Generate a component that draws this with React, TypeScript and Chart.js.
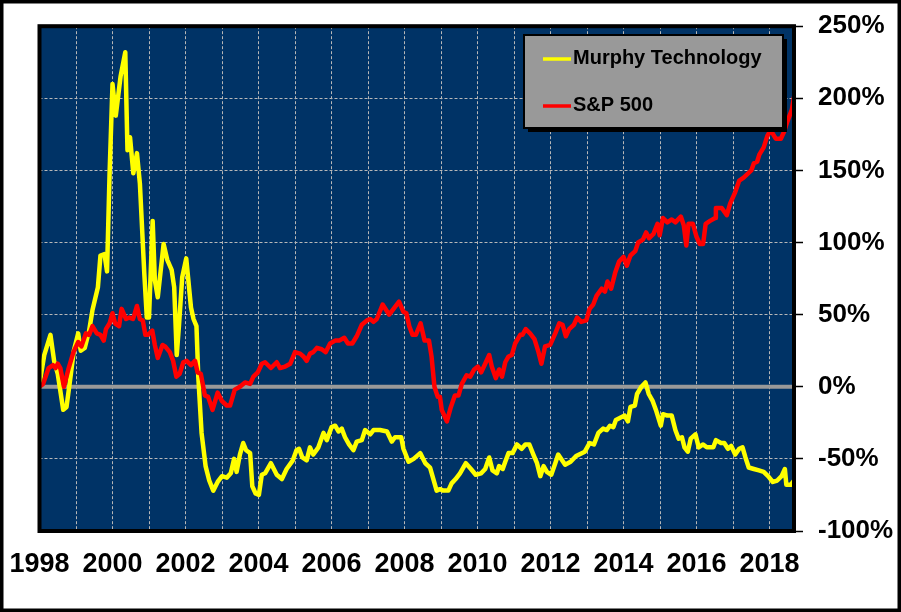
import { useEffect, useRef } from 'react';
import { Chart, registerables } from 'chart.js';

Chart.register(...registerables);

const FONT = "'Liberation Sans', Arial, sans-serif";

const seriesNames = ['Murphy Technology', 'S&P 500'];
const seriesColors = ['#ffff00', '#ff0000'];

// cumulative return (%), x = decimal year
const murphyYears = [
  1998.0, 1998.13, 1998.3, 1998.4, 1998.5, 1998.65, 1998.74, 1998.85, 1998.94, 1999.06,
  1999.13, 1999.24, 1999.36, 1999.45, 1999.6, 1999.67, 1999.78, 1999.85, 1999.92, 2000.0,
  2000.09, 2000.22, 2000.35, 2000.41, 2000.48, 2000.57, 2000.67, 2000.75, 2000.87, 2000.94,
  2001.0, 2001.1, 2001.16, 2001.24, 2001.4, 2001.5, 2001.62, 2001.69, 2001.76, 2001.82,
  2001.91, 2002.02, 2002.07, 2002.15, 2002.22, 2002.3, 2002.35, 2002.44, 2002.55, 2002.65,
  2002.76, 2002.88, 2003.0, 2003.13, 2003.24, 2003.33, 2003.4, 2003.49, 2003.58, 2003.66,
  2003.77, 2003.83, 2003.92, 2004.01, 2004.09, 2004.18, 2004.34, 2004.5, 2004.64, 2004.77,
  2004.94, 2005.04, 2005.11, 2005.2, 2005.32, 2005.41, 2005.5, 2005.64, 2005.78, 2005.87,
  2006.0, 2006.1, 2006.19, 2006.28, 2006.37, 2006.48, 2006.6, 2006.69, 2006.83, 2006.92,
  2007.06, 2007.15, 2007.33, 2007.52, 2007.65, 2007.74, 2007.91, 2007.97, 2008.11, 2008.25,
  2008.43, 2008.57, 2008.7, 2008.79, 2008.88, 2008.97, 2009.06, 2009.2, 2009.29, 2009.4,
  2009.52, 2009.68, 2009.82, 2009.95, 2010.1, 2010.21, 2010.32, 2010.41, 2010.53, 2010.59,
  2010.69, 2010.76, 2010.85, 2010.96, 2011.08, 2011.21, 2011.31, 2011.42, 2011.53, 2011.63,
  2011.72, 2011.81, 2011.9, 2012.02, 2012.13, 2012.21, 2012.4, 2012.55, 2012.7, 2012.94,
  2013.07, 2013.19, 2013.31, 2013.44, 2013.54, 2013.63, 2013.72, 2013.79, 2013.95, 2014.03,
  2014.12, 2014.19, 2014.31, 2014.37, 2014.49, 2014.6, 2014.69, 2014.8, 2014.9, 2015.02,
  2015.08, 2015.2, 2015.32, 2015.42, 2015.51, 2015.6, 2015.67, 2015.76, 2015.84, 2015.97,
  2016.06, 2016.18, 2016.28, 2016.46, 2016.53, 2016.67, 2016.76, 2016.86, 2016.95, 2017.06,
  2017.17, 2017.26, 2017.34, 2017.43, 2017.57, 2017.71, 2017.84, 2017.96, 2018.09, 2018.21,
  2018.33, 2018.42, 2018.46, 2018.58, 2018.67,
];
const murphyValues = [
  2, 22, 36, 18, 9, -16, -14, 7, 25, 37,
  25, 27, 39, 53, 69, 91, 92, 80, 148, 210,
  188, 215, 232, 164, 173, 148, 162, 141, 79, 48,
  48, 115, 74, 62, 99, 88, 81, 69, 22, 42,
  76, 89, 76, 55, 47, 42, 7, -32, -55, -65,
  -72, -66, -62, -63, -60, -50, -59, -47, -39, -44,
  -46, -69, -74, -75, -61, -60, -53, -61, -64, -57,
  -51, -44, -43, -49, -51, -42, -47, -42, -32, -37,
  -28, -27, -31, -29, -35, -40, -44, -38, -37, -30,
  -33, -30, -30, -31, -38, -35, -35, -43, -52, -50,
  -46, -53, -56, -64, -72, -71, -72, -72, -67, -64,
  -60, -53, -57, -61, -60, -57, -49, -58, -60, -55,
  -57, -52, -46, -46, -40, -43, -40, -40, -47, -53,
  -62, -55, -59, -61, -53, -47, -54, -52, -48, -45,
  -39, -40, -32, -29, -30, -27, -28, -23, -21, -20,
  -24, -14, -13, -5, 0, 3, -5, -10, -17, -27,
  -19, -20, -20, -30, -36, -35, -42, -45, -36, -33,
  -42, -40, -42, -42, -37, -39, -39, -43, -41, -47,
  -43, -42, -49, -56, -57, -58, -59, -62, -66, -65,
  -62, -57, -68, -68, -65,
];

const spYears = [
  1998.0, 1998.1, 1998.25, 1998.37, 1998.44, 1998.5, 1998.57, 1998.67, 1998.8, 1998.93,
  1999.06, 1999.15, 1999.27, 1999.36, 1999.45, 1999.57, 1999.67, 1999.76, 1999.82, 1999.92,
  2000.0, 2000.07, 2000.18, 2000.25, 2000.37, 2000.46, 2000.56, 2000.6, 2000.67, 2000.75,
  2000.83, 2000.9, 2000.97, 2001.09, 2001.16, 2001.24, 2001.37, 2001.44, 2001.57, 2001.66,
  2001.75, 2001.84, 2001.94, 2002.03, 2002.15, 2002.26, 2002.33, 2002.42, 2002.53, 2002.62,
  2002.74, 2002.88, 2003.0, 2003.13, 2003.22, 2003.35, 2003.49, 2003.63, 2003.77, 2003.86,
  2003.98, 2004.09, 2004.18, 2004.34, 2004.5, 2004.59, 2004.73, 2004.87, 2005.0, 2005.14,
  2005.23, 2005.32, 2005.41, 2005.5, 2005.6, 2005.73, 2005.84, 2005.96, 2006.1, 2006.21,
  2006.35, 2006.45, 2006.57, 2006.69, 2006.83, 2006.97, 2007.06, 2007.15, 2007.24, 2007.4,
  2007.58, 2007.73, 2007.85, 2007.97, 2008.05, 2008.13, 2008.22, 2008.31, 2008.44, 2008.55,
  2008.67, 2008.74, 2008.82, 2008.91, 2008.97, 2009.02, 2009.16, 2009.27, 2009.38, 2009.48,
  2009.57, 2009.7, 2009.8, 2009.91, 2010.01, 2010.1, 2010.21, 2010.32, 2010.39, 2010.5,
  2010.59, 2010.67, 2010.76, 2010.85, 2010.94, 2011.03, 2011.17, 2011.23, 2011.32, 2011.44,
  2011.56, 2011.67, 2011.75, 2011.85, 2011.99, 2012.13, 2012.24, 2012.33, 2012.42, 2012.51,
  2012.64, 2012.73, 2012.84, 2012.98, 2013.07, 2013.17, 2013.26, 2013.4, 2013.49, 2013.56,
  2013.66, 2013.77, 2013.88, 2014.0, 2014.09, 2014.19, 2014.32, 2014.4, 2014.53, 2014.62,
  2014.7, 2014.82, 2014.93, 2014.99, 2015.08, 2015.2, 2015.32, 2015.42, 2015.57, 2015.65,
  2015.72, 2015.78, 2015.9, 2016.0, 2016.09, 2016.18, 2016.25, 2016.37, 2016.51, 2016.53,
  2016.69, 2016.83, 2016.92, 2017.06, 2017.17, 2017.29, 2017.5, 2017.57, 2017.66, 2017.72,
  2017.84, 2017.94, 2018.03, 2018.17, 2018.31, 2018.4, 2018.49, 2018.61, 2018.67,
];
const spValues = [
  0, 2, 13, 15, 13, 16, 13, 0, 13, 24,
  31, 28, 37, 36, 42, 37, 36, 32, 40, 44,
  51, 44, 42, 54, 47, 48, 47, 50, 56, 47,
  46, 36, 36, 39, 29, 20, 29, 28, 24, 18,
  7, 9, 17, 18, 15, 18, 10, 9, -6, -7,
  -16, -4, -10, -13, -13, -2, 0, 3, 2, 7,
  10, 16, 17, 13, 17, 13, 14, 16, 24, 23,
  21, 18, 23, 24, 27, 26, 24, 30, 32, 32,
  34, 30, 30, 35, 43, 46, 47, 45, 47, 57,
  50, 55, 59, 52, 51, 42, 36, 36, 44, 32,
  32, 21, 0, -7, -7, -16, -24, -14, -6, -6,
  2, 8, 7, 12, 14, 10, 16, 22, 14, 6,
  12, 7, 17, 21, 22, 30, 36, 36, 40, 37,
  33, 24, 16, 28, 29, 37, 44, 43, 35, 40,
  43, 48, 45, 46, 54, 57, 63, 68, 66, 73,
  68, 79, 87, 90, 84, 91, 94, 100, 102, 107,
  103, 106, 113, 105, 117, 114, 116, 114, 118, 112,
  98, 113, 113, 104, 99, 99, 113, 115, 117, 124,
  124, 119, 127, 135, 143, 145, 150, 155, 156, 161,
  166, 174, 178, 172, 172, 177, 184, 192, 201,
];

const xMin = 1998;
const xMax = 2018.67;
const xLabelYears = [1998, 2000, 2002, 2004, 2006, 2008, 2010, 2012, 2014, 2016, 2018];
const yMin = -100;
const yMax = 250;
const yStep = 50;

const toPoints = (xs: number[], ys: number[]) => xs.map((x, i) => ({ x, y: ys[i] }));

const chartDecor = {
  id: 'chartDecor',
  beforeDraw(chart: any) {
    const { ctx, chartArea: a, width, height } = chart;
    ctx.save();
    ctx.fillStyle = '#ffffff';
    ctx.fillRect(0, 0, width, height);
    ctx.fillStyle = '#003366';
    ctx.fillRect(a.left, a.top, a.right - a.left, a.bottom - a.top);
    ctx.restore();
  },
  beforeDatasetsDraw(chart: any) {
    const { ctx, chartArea: a } = chart;
    const y0 = chart.scales.y.getPixelForValue(0);
    ctx.save();
    ctx.strokeStyle = '#999999';
    ctx.lineWidth = 4;
    ctx.beginPath();
    ctx.moveTo(a.left, y0);
    ctx.lineTo(a.right, y0);
    ctx.stroke();
    ctx.restore();
  },
  afterDraw(chart: any) {
    const { ctx, chartArea: a, width, height } = chart;
    ctx.save();
    // plot frame
    ctx.strokeStyle = '#000000';
    ctx.lineWidth = 4;
    ctx.strokeRect(a.left, a.top, a.right - a.left, a.bottom - a.top);

    // legend box with shadow
    const bx = 524, by = 35, bw = 259, bh = 93;
    ctx.fillStyle = '#000000';
    ctx.fillRect(bx + 4, by + 4, bw, bh);
    ctx.fillStyle = '#999999';
    ctx.fillRect(bx, by, bw, bh);
    ctx.lineWidth = 2;
    ctx.strokeRect(bx, by, bw, bh);
    ctx.font = `bold 20px ${FONT}`;
    ctx.textBaseline = 'middle';
    ctx.textAlign = 'left';
    chart.data.datasets.forEach((ds: any, i: number) => {
      const ly = 59 + i * 47;
      ctx.strokeStyle = ds.borderColor;
      ctx.lineWidth = 3.5;
      ctx.beginPath();
      ctx.moveTo(543, ly);
      ctx.lineTo(571, ly);
      ctx.stroke();
      ctx.fillStyle = '#000000';
      ctx.fillText(ds.label, 573, ly - 1);
    });

    // outer border
    ctx.strokeStyle = '#000000';
    ctx.lineWidth = 3.5;
    ctx.strokeRect(1.75, 1.75, width - 3.5, height - 3.5);
    ctx.restore();
  },
};

export default function App() {
  const canvasRef = useRef<HTMLCanvasElement>(null);
  const chartRef = useRef<Chart | null>(null);

  useEffect(() => {
    if (!canvasRef.current) return;
    if (chartRef.current) chartRef.current.destroy();

    chartRef.current = new Chart(canvasRef.current, {
      type: 'line',
      data: {
        datasets: [
          {
            label: seriesNames[0],
            data: toPoints(murphyYears, murphyValues),
            borderColor: seriesColors[0],
            borderWidth: 4.5,
            pointRadius: 0,
            tension: 0,
            order: 1,
            borderJoinStyle: 'round',
            borderCapStyle: 'round',
          },
          {
            label: seriesNames[1],
            data: toPoints(spYears, spValues),
            borderColor: seriesColors[1],
            borderWidth: 4.5,
            pointRadius: 0,
            tension: 0,
            order: 0,
            borderJoinStyle: 'round',
            borderCapStyle: 'round',
          },
        ],
      },
      options: {
        animation: false,
        responsive: true,
        maintainAspectRatio: false,
        layout: { padding: { left: 39.5, top: 26.2, right: 0, bottom: 0 } },
        plugins: {
          legend: { display: false },
          tooltip: { enabled: false },
        },
        scales: {
          x: {
            type: 'linear',
            min: xMin,
            max: xMax,
            afterFit: (scale: any) => {
              scale.height = 81;
              scale.paddingLeft = 0;
              scale.paddingRight = 0;
            },
            border: { display: false, dash: [3, 2] },
            grid: {
              color: '#b8b8b8',
              lineWidth: 1,
              drawTicks: false,
            },
            ticks: {
              stepSize: 1,
              includeBounds: false,
              autoSkip: false,
              maxRotation: 0,
              padding: 17,
              color: '#000000',
              font: { family: FONT, size: 27, weight: 'bold' },
              callback: (v: any) => {
                const yr = Math.round(Number(v));
                return xLabelYears.includes(yr) ? String(yr) : '';
              },
            },
          },
          y: {
            position: 'right',
            min: yMin,
            max: yMax,
            afterFit: (scale: any) => {
              scale.width = 107;
              scale.paddingTop = 0;
              scale.paddingBottom = 0;
            },
            border: { display: false, dash: [3, 2] },
            grid: {
              color: '#b8b8b8',
              lineWidth: 1,
              drawTicks: true,
              tickLength: 9,
              tickColor: '#000000',
              tickWidth: 1.5,
              tickBorderDash: [],
            },
            ticks: {
              stepSize: yStep,
              padding: 15,
              color: '#000000',
              font: { family: FONT, size: 26, weight: 'bold' },
              callback: (v: any) => `${v}%`,
            },
          },
        },
      },
      plugins: [chartDecor],
    } as any);

    return () => {
      if (chartRef.current) {
        chartRef.current.destroy();
        chartRef.current = null;
      }
    };
  }, []);

  return (
    <div style={{ position: 'fixed', left: 0, top: 0, width: 901, height: 612 }}>
      <canvas ref={canvasRef}></canvas>
    </div>
  );
}
